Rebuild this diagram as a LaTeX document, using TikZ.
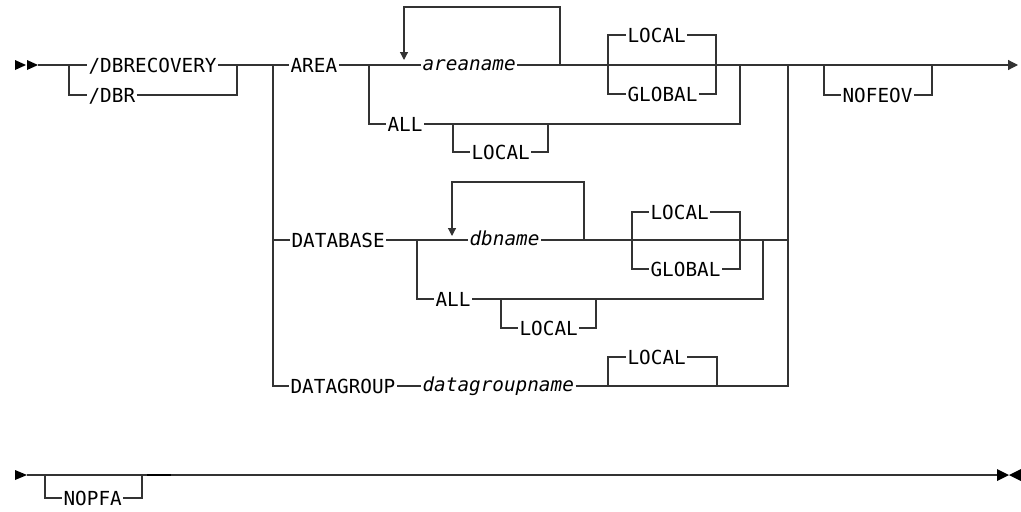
\documentclass[tikz,border=0pt]{standalone}
\usepackage{fontspec}
\setmonofont{DejaVu Sans Mono}
\usetikzlibrary{arrows.meta}
\newcommand\kwfont{\ttfamily\fontsize{14.5}{16}\selectfont}
\newcommand\varfont{\ttfamily\itshape\fontsize{14.5}{16}\selectfont}
\tikzset{
  rail/.style={draw=black!80, line width=0.9pt},
  kw/.style={font=\kwfont, inner xsep=1pt, inner ysep=0pt, text height=10.5pt, text depth=0pt, anchor=west},
  var/.style={kw, font=\varfont, text height=7.9pt}
}
\begin{document}
\begin{tikzpicture}[x=0.75pt, y=-0.75pt, >={Triangle[length=6pt,width=6pt]}]
\useasboundingbox (0,0) rectangle (1021,511);

% keywords and variables
\node[kw] (dbrec) at (87,65) {/DBRECOVERY};
\node[kw] (dbr) at (87,95) {/DBR};
\node[kw] (area) at (289,65) {AREA};
\node[var] (areaname) at (421,65) {areaname};
\node[kw] (alocal) at (626,35) {LOCAL};
\node[kw] (aglobal) at (626,94) {GLOBAL};
\node[kw] (aall) at (386,124) {ALL};
\node[kw] (aalllocal) at (470,152) {LOCAL};
\node[kw] (nofeov) at (841,95) {NOFEOV};
\node[kw] (database) at (290,240) {DATABASE};
\node[var] (dbname) at (468,240) {dbname};
\node[kw] (dlocal) at (649,212) {LOCAL};
\node[kw] (dglobal) at (649,269) {GLOBAL};
\node[kw] (dall) at (434,299) {ALL};
\node[kw] (dalllocal) at (518,328) {LOCAL};
\node[kw] (datagroup) at (289,386) {DATAGROUP};
\node[var] (dgname) at (421,386) {datagroupname};
\node[kw] (glocal) at (626,357) {LOCAL};
\node[kw] (nopfa) at (62,498) {NOPFA};

% junctions
\coordinate (start) at (38,65);
\coordinate (split) at (69,65);
\coordinate (join) at (237,65);
\coordinate (left) at (273,65);
\coordinate (right) at (788,65);
\coordinate (stop) at (1018,65);
\coordinate (start2) at (27,475);
\coordinate (stop2) at (997,475);

% first line
\fill (15,60)--(26,65)--(15,70)--cycle;
\fill (27,60)--(38,65)--(27,70)--cycle;
\draw[rail] (start) -- (dbrec);
\draw[rail] (split) |- (dbr);
\draw[rail] (dbr) -| (join);
\draw[rail] (dbrec) -- (area);
\draw[rail] (left) |- (datagroup);
\draw[rail] (area) -- (areaname);
\draw[rail,-{Triangle[length=7.5pt,width=7.5pt]}] (areaname) -- (stop);
\draw[rail,->] (560,65) |- (404,7) -- (404,60);
\draw[rail] (608,65) |- (alocal);
\draw[rail] (alocal) -| (716,65);
\draw[rail] (608,65) |- (aglobal);
\draw[rail] (aglobal) -| (716,65);
\draw[rail] (369,65) |- (aall);
\draw[rail] (aall) -| (740,65);
\draw[rail] (453,124) |- (aalllocal);
\draw[rail] (aalllocal) -| (548,124);
\draw[rail] (824,65) |- (nofeov);
\draw[rail] (nofeov) -| (932,65);

% DATABASE
\draw[rail] (273,240) -- (database);
\draw[rail] (database) -- (dbname);
\draw[rail] (dbname) -- (788,240);
\draw[rail,->] (584,240) |- (452,182) -- (452,236);
\draw[rail] (632,240) |- (dlocal);
\draw[rail] (dlocal) -| (740,240);
\draw[rail] (632,240) |- (dglobal);
\draw[rail] (dglobal) -| (740,240);
\draw[rail] (417,240) |- (dall);
\draw[rail] (dall) -| (763,240);
\draw[rail] (501,299) |- (dalllocal);
\draw[rail] (dalllocal) -| (596,299);

% DATAGROUP
\draw[rail] (datagroup) -- (dgname);
\draw[rail] (dgname) -| (right);
\draw[rail] (608,386) |- (glocal);
\draw[rail] (glocal) -| (717,386);

% second line
\fill (15,470)--(27,475)--(15,480)--cycle;
\draw[rail] (start2) -- (stop2);
\draw[rail] (45,475) |- (nopfa);
\draw[rail] (nopfa) -| (142,475);
\draw[line width=2.2pt] (147,475) -- (171,475);
\fill (997,469)--(1009,475)--(997,481)--cycle;
\fill (1021,469)--(1009,475)--(1021,481)--cycle;
\end{tikzpicture}
\end{document}
